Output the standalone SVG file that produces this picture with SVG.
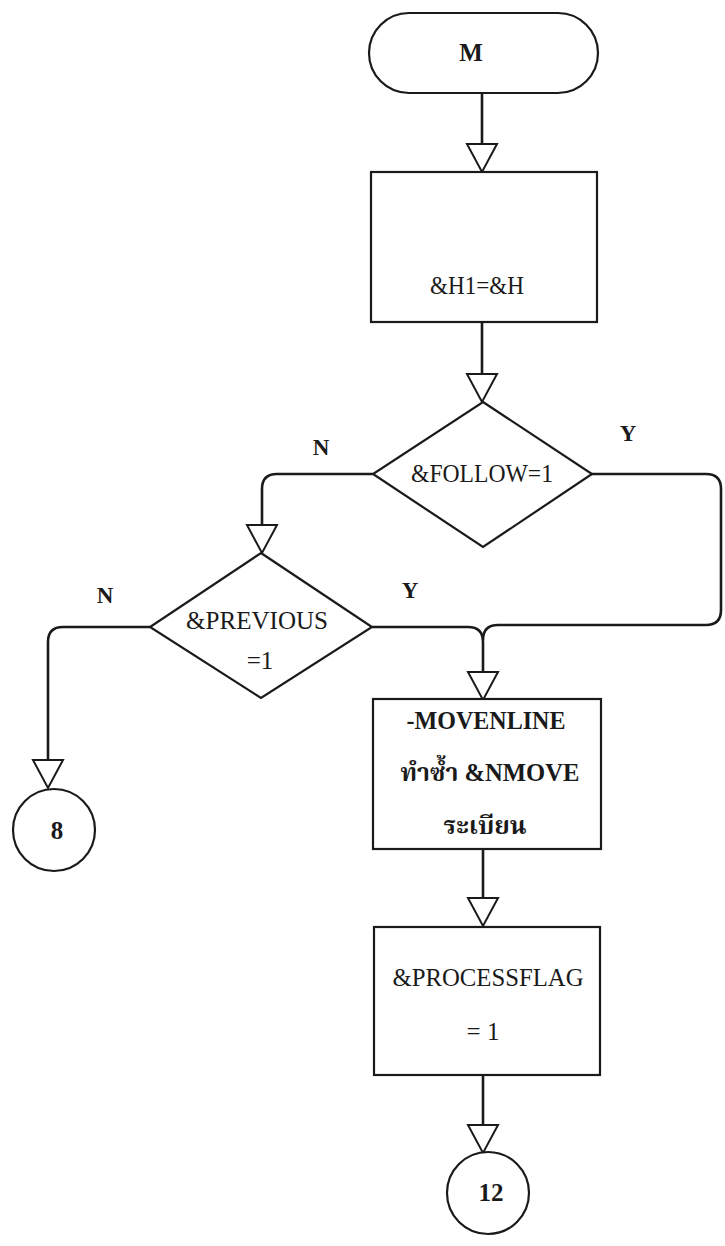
<svg xmlns="http://www.w3.org/2000/svg" width="725" height="1246" viewBox="0 0 725 1246">
<style>
.shape{fill:#fff;stroke:#1a1a1a;stroke-width:2.2}
.line{fill:none;stroke:#1a1a1a;stroke-width:2.6}
.head{fill:#fff;stroke:#1a1a1a;stroke-width:2}
.t{font-family:"Liberation Serif","Noto Serif Thai","Noto Sans Thai","Tlwg Typo",serif;font-size:25px;fill:#1a1a1a;text-anchor:middle}
.b{font-weight:bold}
.lbl{font-family:"Liberation Serif",serif;font-size:23px;font-weight:bold;fill:#1a1a1a;text-anchor:middle}
</style>
<defs>
<path id="ah" class="head" d="M-15,0 L15,0 L0,28 Z"/>
</defs>
<rect width="725" height="1246" fill="#fff"/>
<g id="connectors">
<path class="line" d="M482,93 V143"/>
<use href="#ah" x="482" y="144"/>
<path class="line" d="M482,322 V373"/>
<use href="#ah" x="482" y="374"/>
<path class="line" d="M373,474 H277 Q262,474 262,489 V525"/>
<use href="#ah" x="262" y="525"/>
<path class="line" d="M591,474 H706 Q721,474 721,489 V610 Q721,625 706,625 H498 Q483,625 483,640"/>
<path class="line" d="M372,627 H468 Q483,627 483,642 V672"/>
<use href="#ah" x="483" y="672"/>
<path class="line" d="M150,627 H63 Q48,627 48,642 V760"/>
<use href="#ah" x="48" y="760"/>
<path class="line" d="M483,849 V898"/>
<use href="#ah" x="483" y="898"/>
<path class="line" d="M483,1075 V1125"/>
<use href="#ah" x="483" y="1125"/>
</g>
<g id="n-start">
<rect class="shape" x="369" y="13" width="229" height="80" rx="40" ry="40"/>
<text class="t b" x="471" y="61">M</text>
</g>
<g id="n-assign">
<rect class="shape" x="371" y="172" width="226" height="150"/>
<text class="t" x="477" y="294" textLength="94" lengthAdjust="spacingAndGlyphs">&amp;H1=&amp;H</text>
</g>
<g id="n-follow">
<polygon class="shape" points="483,402 592,474 483,547 373,474"/>
<text class="t" x="482" y="482" textLength="142" lengthAdjust="spacingAndGlyphs">&amp;FOLLOW=1</text>
<text class="lbl" x="321" y="455">N</text>
<text class="lbl" x="628" y="441">Y</text>
</g>
<g id="n-previous">
<polygon class="shape" points="261,553 372,627 261,698 150,627"/>
<text class="t" x="257" y="629" textLength="142" lengthAdjust="spacingAndGlyphs">&amp;PREVIOUS</text>
<text class="t" x="260" y="669">=1</text>
<text class="lbl" x="105" y="603">N</text>
<text class="lbl" x="410" y="598">Y</text>
</g>
<g id="n-8">
<circle class="shape" cx="54" cy="830" r="41"/>
<text class="t b" x="57" y="839">8</text>
</g>
<g id="n-movenline">
<rect class="shape" x="373" y="699" width="228" height="150"/>
<text class="t b" x="486" y="729" textLength="159" lengthAdjust="spacingAndGlyphs">-MOVENLINE</text>
<text class="t b" x="490" y="781" textLength="179" lengthAdjust="spacingAndGlyphs">ทำซ้ำ &amp;NMOVE</text>
<text class="t b" x="485" y="834">ระเบียน</text>
</g>
<g id="n-processflag">
<rect class="shape" x="374" y="927" width="226" height="148"/>
<text class="t" x="488" y="986" textLength="191" lengthAdjust="spacingAndGlyphs">&amp;PROCESSFLAG</text>
<text class="t" x="483" y="1040">=  1</text>
</g>
<g id="n-12">
<circle class="shape" cx="488" cy="1193" r="41"/>
<text class="t b" x="491" y="1201">12</text>
</g>
</svg>
